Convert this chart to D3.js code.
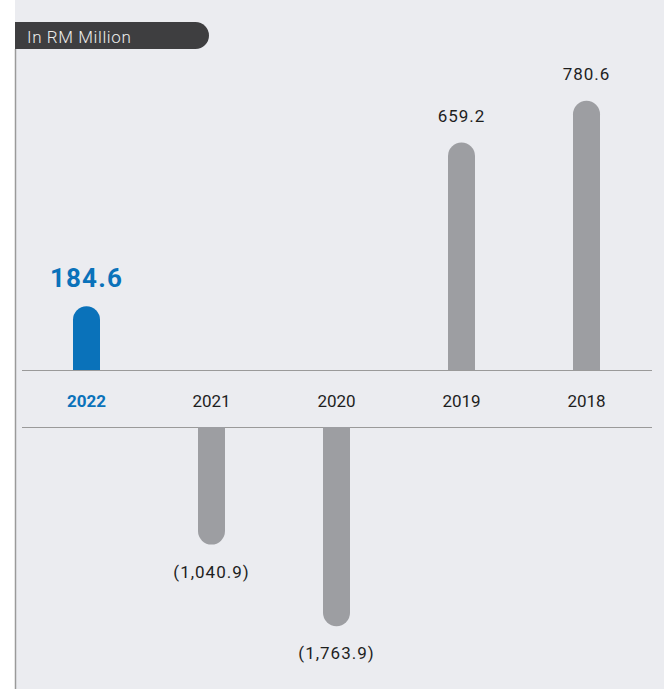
<!DOCTYPE html>
<html>
<head>
<meta charset="utf-8">
<script src="https://cdn.jsdelivr.net/npm/d3@7"></script>
<style>
  html, body { margin: 0; padding: 0; background: #ffffff; }
  svg { display: block; }
</style>
</head>
<body>
<svg id="chart" width="664" height="689"></svg>
<script>
const years = ["2022", "2021", "2020", "2019", "2018"];
const values = [184.6, -1040.9, -1763.9, 659.2, 780.6];
const valueLabels = ["184.6", "(1,040.9)", "(1,763.9)", "659.2", "780.6"];
const unitLabel = "In RM Million";
const highlightYear = "2022";

const W = 664, H = 689;
const svg = d3.select("#chart");

const bg = "#ebecf0", blue = "#0a72ba", grey = "#9d9ea2", dark = "#1e1e1e";

// panel
svg.append("rect").attr("x", 15).attr("y", 0).attr("width", W - 15).attr("height", H).attr("fill", bg);
svg.append("line").attr("x1", 15.5).attr("x2", 15.5).attr("y1", 49).attr("y2", H)
  .attr("stroke", "#9a9a9a").attr("stroke-width", 1.5);

// unit label box
const bx = 15, by = 22, bw = 194, bh = 27, r = bh / 2;
svg.append("path")
  .attr("d", `M${bx},${by} H${bx + bw - r} A${r},${r} 0 0 1 ${bx + bw - r},${by + bh} H${bx} Z`)
  .attr("fill", "#3e3e40");
svg.append("text").attr("x", 27).attr("y", 42.5)
  .attr("font-family", "Roboto, sans-serif").attr("font-size", 17)
  .attr("font-weight", 300)
  .attr("letter-spacing", 0.6)
  .attr("fill", "#ececec").text(unitLabel);

// scales
const x = d3.scaleBand().domain(years).range([24, 649]).padding(0);
const baseTop = 370, baseBottom = 427;
const yPos = d3.scaleLinear().domain([0, 800]).range([baseTop, baseTop - 0.345 * 800]);
const yNeg = d3.scaleLinear().domain([0, -1800]).range([baseBottom, baseBottom + 0.113 * 1800]);

// axis lines
[baseTop, baseBottom].forEach(yy => {
  svg.append("line").attr("x1", 22).attr("x2", 652).attr("y1", yy + 0.5).attr("y2", yy + 0.5)
    .attr("stroke", "#9a9a9a").attr("stroke-width", 1.2);
});

const bw2 = 27, rr = bw2 / 2;
const data = years.map((y, i) => ({ year: y, value: values[i], label: valueLabels[i] }));

function barPath(d) {
  const cx = x(d.year) + x.bandwidth() / 2;
  const x0 = cx - rr, x1 = cx + rr;
  if (d.value >= 0) {
    const top = yPos(d.value), bot = yPos(0);
    return `M${x0},${bot} V${top + rr} A${rr},${rr} 0 0 1 ${x1},${top + rr} V${bot} Z`;
  } else {
    const top = yNeg(0), bot = yNeg(d.value);
    return `M${x0},${top} V${bot - rr} A${rr},${rr} 0 0 0 ${x1},${bot - rr} V${top} Z`;
  }
}

svg.append("g").selectAll("path").data(data).join("path")
  .attr("d", barPath)
  .attr("fill", d => d.year === highlightYear ? blue : grey);

// value labels
svg.append("g").selectAll("text").data(data).join("text")
  .attr("x", d => x(d.year) + x.bandwidth() / 2)
  .attr("y", d => d.value >= 0 ? yPos(d.value) - (d.year === highlightYear ? 19 : 21) : yNeg(d.value) + 33)
  .attr("text-anchor", "middle")
  .attr("font-family", "Roboto, sans-serif")
  .attr("font-size", d => d.year === highlightYear ? 26 : 17)
  .attr("font-weight", d => d.year === highlightYear ? 700 : 400)
  .attr("letter-spacing", d => d.year === highlightYear ? 1.2 : 1)
  .attr("fill", d => d.year === highlightYear ? blue : dark)
  .text(d => d.label);

// category labels
svg.append("g").selectAll("text").data(years).join("text")
  .attr("x", d => x(d) + x.bandwidth() / 2)
  .attr("y", 407)
  .attr("text-anchor", "middle")
  .attr("font-family", "Roboto, sans-serif")
  .attr("font-size", 17)
  .attr("font-weight", d => d === highlightYear ? 700 : 400)
  .attr("fill", d => d === highlightYear ? blue : dark)
  .text(d => d);
</script>
</body>
</html>
